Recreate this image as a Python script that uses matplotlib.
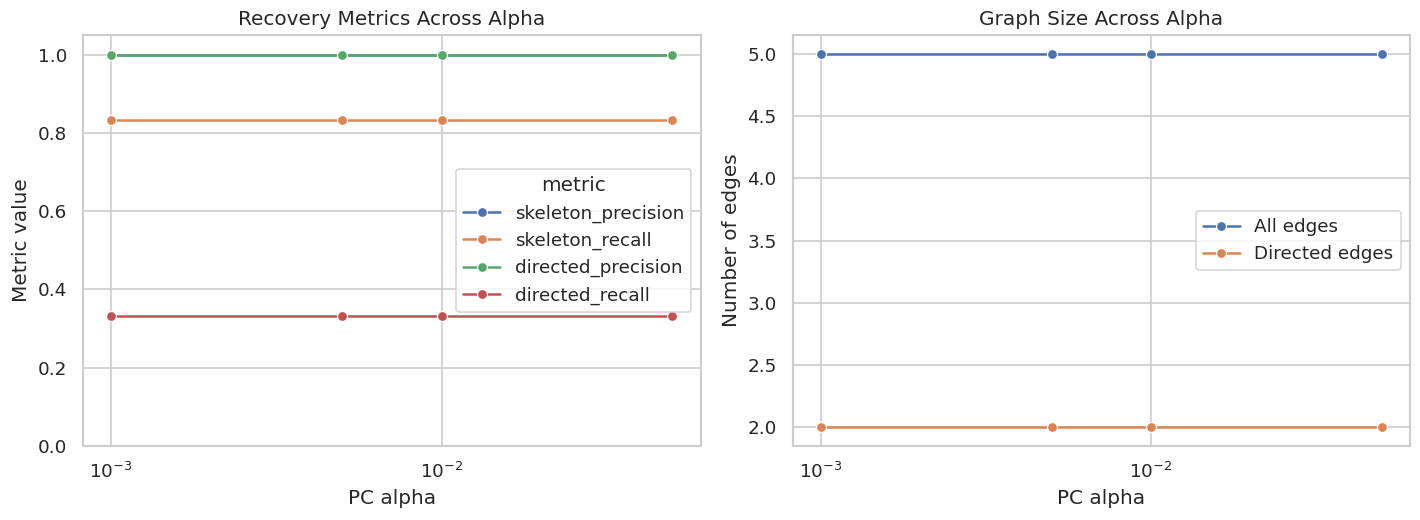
import matplotlib
matplotlib.use("Agg")
import matplotlib.pyplot as plt
import seaborn as sns
import pandas as pd

# values
alphas = [0.001, 0.005, 0.01, 0.05]
skeleton_precision = [1.0, 1.0, 1.0, 1.0]
skeleton_recall = [0.8333, 0.8333, 0.8333, 0.8333]
directed_precision = [1.0, 1.0, 1.0, 1.0]
directed_recall = [0.3333, 0.3333, 0.3333, 0.3333]
all_edges = [5, 5, 5, 5]
directed_edges = [2, 2, 2, 2]

sns.set_theme(style="whitegrid")

rows = []
for name, vals in [("skeleton_precision", skeleton_precision),
                   ("skeleton_recall", skeleton_recall),
                   ("directed_precision", directed_precision),
                   ("directed_recall", directed_recall)]:
    for a, v in zip(alphas, vals):
        rows.append({"alpha": a, "metric": name, "value": v})
df = pd.DataFrame(rows)

fig, axes = plt.subplots(1, 2, figsize=(1420 / 120, 520 / 120), dpi=120)
fig.subplots_adjust(left=0.0585, right=0.993, top=0.9327, bottom=0.1423, wspace=0.149)

ax = axes[0]
sns.lineplot(data=df, x="alpha", y="value", hue="metric", marker="o", ax=ax)
ax.set_xscale("log")
ax.set_ylim(0, 1.05)
ax.set_xlabel("PC alpha")
ax.set_ylabel("Metric value")
ax.set_title("Recovery Metrics Across Alpha")
ax.legend(title="metric", loc="center right")

ax = axes[1]
sns.lineplot(x=alphas, y=all_edges, marker="o", label="All edges", ax=ax)
sns.lineplot(x=alphas, y=directed_edges, marker="o", label="Directed edges", ax=ax)
ax.set_xscale("log")
ax.set_xlabel("PC alpha")
ax.set_ylabel("Number of edges")
ax.set_title("Graph Size Across Alpha")
ax.legend(loc="center right")

plt.savefig("out.png")
